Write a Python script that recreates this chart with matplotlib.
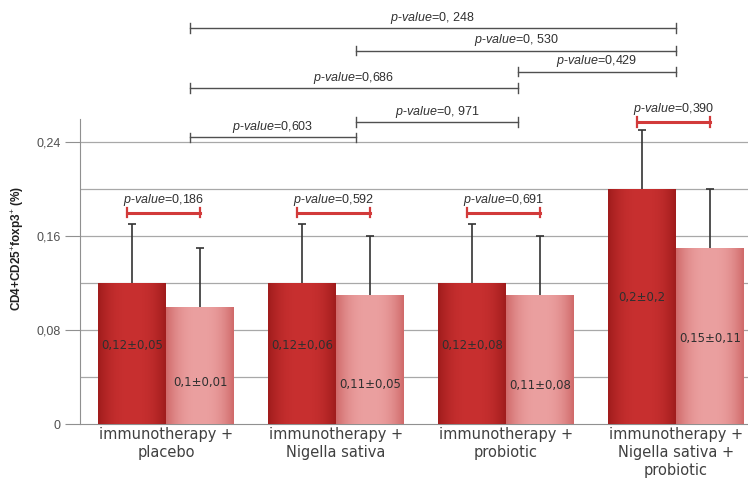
import numpy as np
import matplotlib
matplotlib.use('Agg')
import matplotlib.pyplot as plt

# data
groups = ['immunotherapy +\nplacebo', 'immunotherapy +\nNigella sativa',
          'immunotherapy +\nprobiotic', 'immunotherapy +\nNigella sativa +\nprobiotic']
dark_vals = [0.12, 0.12, 0.12, 0.20]
light_vals = [0.10, 0.11, 0.11, 0.15]
dark_err = [0.05, 0.05, 0.05, 0.05]
light_err = [0.05, 0.05, 0.05, 0.05]
dark_labels = ['0,12±0,05', '0,12±0,06', '0,12±0,08', '0,2±0,2']
light_labels = ['0,1±0,01', '0,11±0,05', '0,11±0,08', '0,15±0,11']
inner_p = ['0,186', '0,592', '0,691', '0,390']
# between-group comparisons: (from group, to group, p)
pairs = [(0, 3, '0, 248'), (1, 3, '0, 530'), (2, 3, '0,429'),
         (0, 2, '0,686'), (1, 2, '0, 971'), (0, 1, '0,603')]

# layout
dark_lab_y = [0.067, 0.067, 0.067, 0.108]
light_lab_y = [0.035, 0.034, 0.033, 0.073]
inner_y = [0.18, 0.18, 0.18, 0.257]
pair_y = [0.337, 0.318, 0.300, 0.286, 0.257, 0.244]
anchor_x = [0.14, 1.12, 2.07, 3.0]

plt.rcParams['font.family'] = ['Liberation Sans', 'DejaVu Sans']
plt.rcParams['mathtext.fontset'] = 'custom'
plt.rcParams['mathtext.it'] = 'Liberation Sans:italic'
plt.rcParams['mathtext.rm'] = 'Liberation Sans'

fig = plt.figure(figsize=(7.48, 4.86), dpi=100)
ax = fig.add_axes([80 / 748, 1 - 424 / 486, 1 - 80 / 748, 424 / 486])
ax.set_xlim(-0.506, 3.424)
ax.set_ylim(0, 0.361)

x = np.arange(len(groups))
w = 0.4


def gradient_bar(xc, h, c_edge, c_mid):
    bar = ax.bar(xc, h, w, color='none', zorder=3)[0]
    t = np.linspace(-1, 1, 64)
    k = np.abs(t) ** 2.5
    ce = np.array(matplotlib.colors.to_rgb(c_edge))
    cm = np.array(matplotlib.colors.to_rgb(c_mid))
    img = (cm[None, :] * (1 - k[:, None]) + ce[None, :] * k[:, None])[None, :, :]
    im = ax.imshow(img, extent=[xc - w / 2, xc + w / 2, 0, h], aspect='auto',
                   zorder=3, interpolation='bicubic')
    im.set_clip_path(bar)


for i in x:
    gradient_bar(i - w / 2, dark_vals[i], '#a01c1c', '#c83030')
    gradient_bar(i + w / 2, light_vals[i], '#d06a6a', '#eba0a0')

# upper-only error bars
for xs, vals, errs in [(x - w / 2, dark_vals, dark_err), (x + w / 2, light_vals, light_err)]:
    tops = np.array(vals) + np.array(errs)
    ax.vlines(xs, vals, tops, color='#333333', lw=1.2, zorder=4)
    ax.hlines(tops, xs - 0.025, xs + 0.025, color='#333333', lw=1.2, zorder=4)

for i in x:
    ax.text(i - w / 2, dark_lab_y[i], dark_labels[i], ha='center', va='center',
            fontsize=8.5, color='#303030', family='DejaVu Sans', zorder=5)
    ax.text(i + w / 2, light_lab_y[i], light_labels[i], ha='center', va='center',
            fontsize=8.5, color='#303030', family='DejaVu Sans', zorder=5)


def plab(v):
    return r'$\mathit{p}$-$\mathit{value}$=' + v


# red brackets inside each group
for i in x:
    x0, x1, y = i - w / 2 - 0.03, i + w / 2, inner_y[i]
    ax.plot([x0, x1], [y, y], color='#d23a3a', lw=2.2, zorder=5, clip_on=False)
    ax.plot([x0, x0], [y - 0.004, y + 0.004], color='#d23a3a', lw=1.6, zorder=5)
    ax.plot([x1, x1], [y - 0.004, y + 0.004], color='#d23a3a', lw=1.6, zorder=5)
    ax.text((x0 + x1) / 2, y + 0.004, plab(inner_p[i]), ha='center', va='bottom',
            fontsize=9, color='#303030', zorder=6)

# black brackets between groups
for (a, b, p), y in zip(pairs, pair_y):
    x0, x1 = anchor_x[a], anchor_x[b]
    ax.plot([x0, x1], [y, y], color='#505050', lw=1.0, clip_on=False)
    ax.plot([x0, x0], [y - 0.004, y + 0.004], color='#505050', lw=1.0, clip_on=False)
    ax.plot([x1, x1], [y - 0.004, y + 0.004], color='#505050', lw=1.0, clip_on=False)
    ax.text((x0 + x1) / 2, y + 0.002, plab(p), ha='center', va='bottom',
            fontsize=9, color='#303030')

# axes styling
ax.set_yticks([0, 0.08, 0.16, 0.24])
ax.set_yticklabels(['0', '0,08', '0,16', '0,24'], fontsize=9, color='#505050')
ax.set_yticks([0.04, 0.12, 0.20], minor=True)
ax.tick_params(axis='y', which='major', length=11, color='#909090', pad=3)
ax.tick_params(axis='y', which='minor', length=0)
for gy in [0.04, 0.08, 0.12, 0.16, 0.20, 0.24]:
    ax.axhline(gy, color='#a8a8a8', lw=0.9, zorder=1)

ax.set_xticks(x)
ax.set_xticklabels(groups, fontsize=10.5, color='#404040', family='DejaVu Sans',
                   linespacing=1.25)
ax.tick_params(axis='x', length=0, pad=2)

for s in ['top', 'right']:
    ax.spines[s].set_visible(False)
ax.spines['left'].set_bounds(0, 0.26)
ax.spines['left'].set_color('#909090')
ax.spines['bottom'].set_color('#909090')

fig.text(18 / 748, 1 - 248 / 486, r'CD4+CD25$^{+}$foxp3$^{+}$ (%)', rotation=90,
         ha='center', va='center', fontsize=8.5, fontweight='bold', color='#202020')

fig.savefig('out.png', dpi=100)
